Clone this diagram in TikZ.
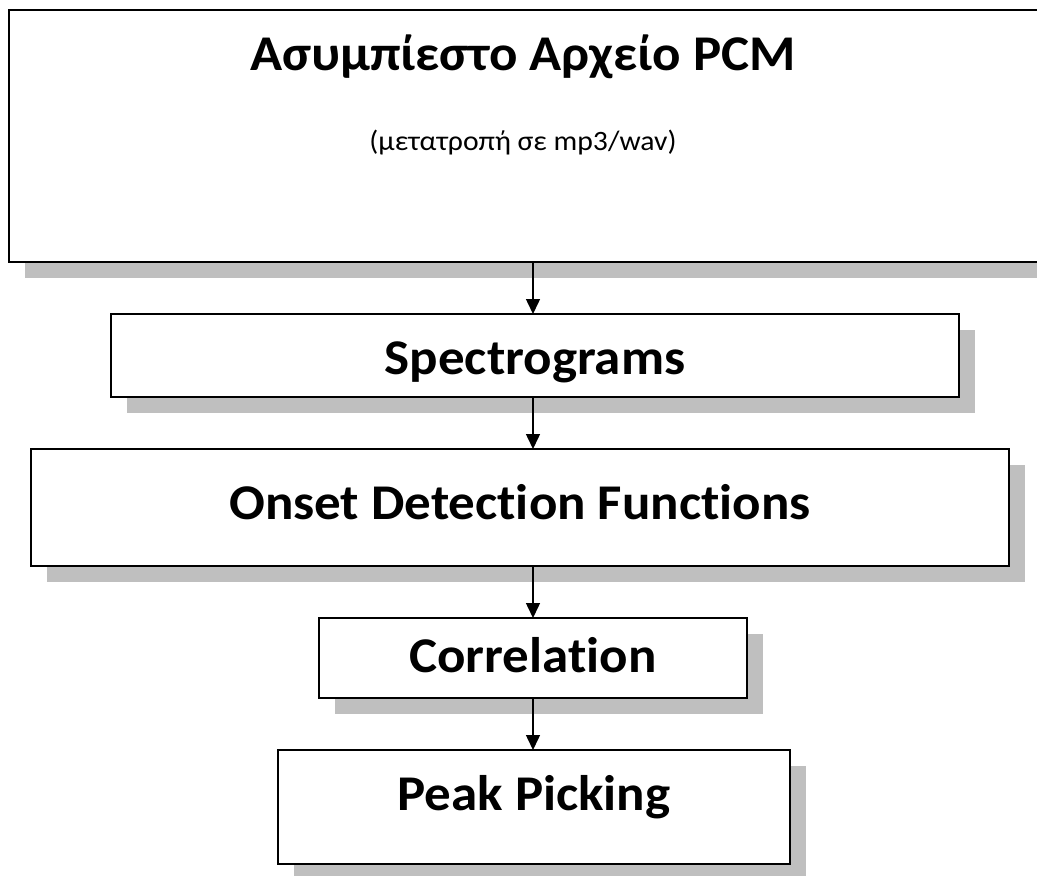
\documentclass[tikz,border=0pt]{standalone}
\usepackage{fontspec}
\setmainfont{Carlito}[FakeStretch=1.06,Ligatures=NoCommon]
\usetikzlibrary{shadows,arrows.meta}
\definecolor{shadowgray}{RGB}{191,191,191}
\begin{document}
\begin{tikzpicture}[x=1pt,y=-1pt,
  box/.style={draw=black, line width=1.6pt, fill=white, inner sep=0pt, outer sep=0pt,
    drop shadow={shadow xshift=16pt, shadow yshift=-16pt, fill=shadowgray, opacity=1}},
  big/.style={font=\fontsize{50}{60}\selectfont\bfseries, inner sep=0pt, anchor=base},
  small/.style={font=\fontsize{28}{33}\selectfont, inner sep=0pt, anchor=base},
  arr/.style={line width=1.5pt, -{Triangle[width=14pt,length=15pt]}}]
\useasboundingbox (0,0) rectangle (1037,876);
\coordinate (ax) at (533,0);
\node[box, line width=2pt, minimum width=1031pt, minimum height=252pt] (pcm) at (524.5,136) {};
\node[big] (pcmt) at (523,70) {Ασυμπίεστο Αρχείο PCM};
\node[small] (pcms) at (523,150) {(μετατροπή σε mp3/wav)};
\node[box, minimum width=848pt, minimum height=83pt] (spec) at (535,355.5) {};
\node[big] (spect) at (535,374) {Spectrograms};
\node[box, minimum width=978pt, minimum height=117pt] (odf) at (520,507.5) {};
\node[big] (odft) at (520,519) {Onset Detection Functions};
\node[box, minimum width=428pt, minimum height=80pt] (corr) at (533,658) {};
\node[big] (corrt) at (533,672) {Correlation};
\node[box, minimum width=512pt, minimum height=114pt] (peak) at (534,807) {};
\node[big] (peakt) at (534,810) {Peak Picking};
\draw[arr] (pcm.south -| ax) -- (spec.north -| ax);
\draw[arr] (spec.south -| ax) -- (odf.north -| ax);
\draw[arr] (odf.south -| ax) -- (corr.north -| ax);
\draw[arr] (corr.south -| ax) -- (peak.north -| ax);
\end{tikzpicture}
\end{document}
